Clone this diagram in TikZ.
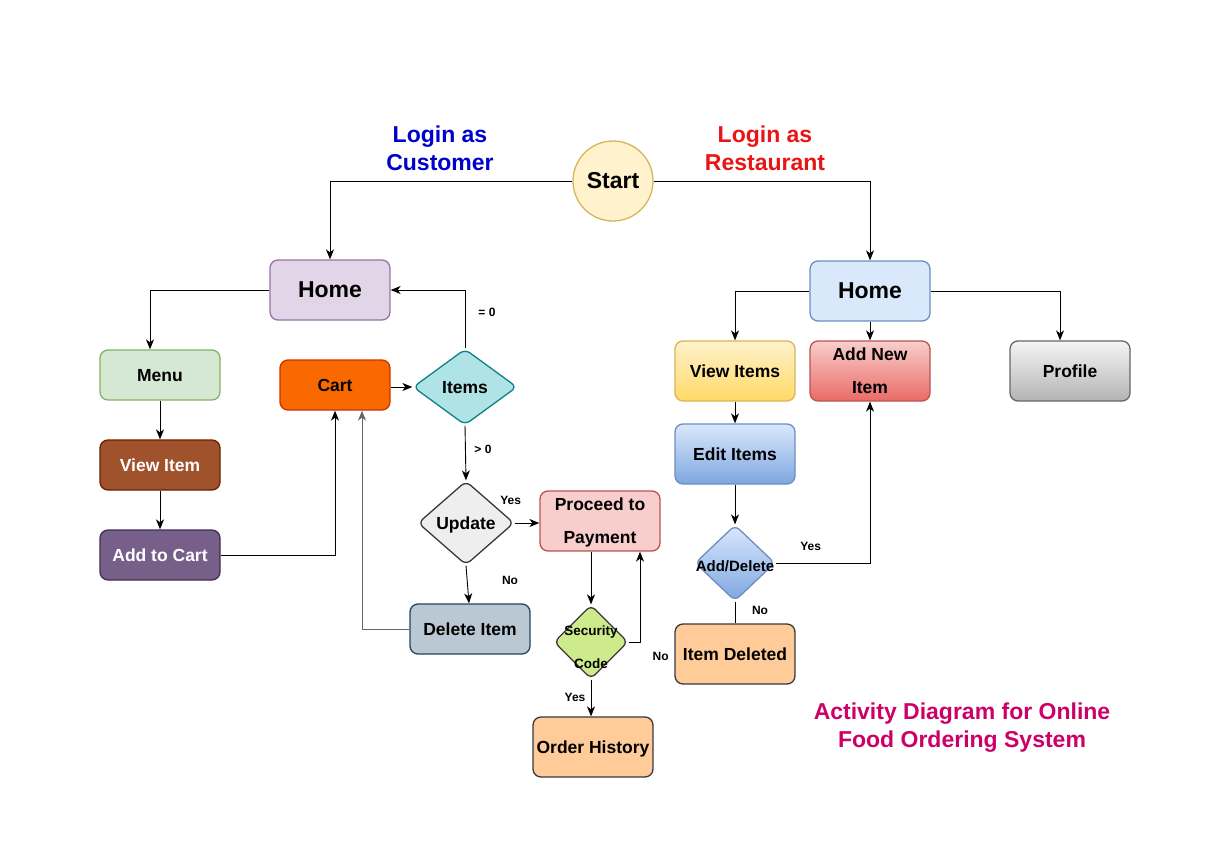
\documentclass[tikz,border=0pt]{standalone}
\usepackage{fontspec}
\setmainfont{Liberation Sans}
\usetikzlibrary{shapes.geometric,arrows.meta}
\definecolor{StartFill}{RGB}{255,242,204}
\definecolor{StartLine}{RGB}{214,182,86}
\definecolor{PurpleFill}{RGB}{225,213,231}
\definecolor{PurpleLine}{RGB}{150,115,166}
\definecolor{BlueFill}{RGB}{218,232,252}
\definecolor{BlueLine}{RGB}{108,142,191}
\definecolor{BlueDark}{RGB}{126,166,224}
\definecolor{GreenFill}{RGB}{213,232,212}
\definecolor{GreenLine}{RGB}{130,179,102}
\definecolor{BrownFill}{RGB}{160,82,45}
\definecolor{BrownLine}{RGB}{109,31,0}
\definecolor{VioletFill}{RGB}{118,96,138}
\definecolor{VioletLine}{RGB}{67,45,87}
\definecolor{OrangeFill}{RGB}{250,104,0}
\definecolor{OrangeLine}{RGB}{199,53,0}
\definecolor{TealFill}{RGB}{176,227,230}
\definecolor{TealLine}{RGB}{14,128,136}
\definecolor{GreyFill}{RGB}{238,238,238}
\definecolor{DarkLine}{RGB}{54,57,61}
\definecolor{SteelFill}{RGB}{186,200,211}
\definecolor{SteelLine}{RGB}{35,68,93}
\definecolor{RoseFill}{RGB}{248,206,204}
\definecolor{RoseLine}{RGB}{184,84,80}
\definecolor{RoseDark}{RGB}{234,107,102}
\definecolor{LimeFill}{RGB}{205,235,139}
\definecolor{PeachFill}{RGB}{255,204,153}
\definecolor{GoldDark}{RGB}{255,217,102}
\definecolor{SilverTop}{RGB}{245,245,245}
\definecolor{SilverDark}{RGB}{179,179,179}
\definecolor{SilverLine}{RGB}{102,102,102}
\definecolor{CustBlue}{RGB}{0,0,204}
\definecolor{RestRed}{RGB}{235,20,20}
\definecolor{TitleMagenta}{RGB}{204,0,102}

\begin{document}
\begin{tikzpicture}[x=1pt,y=-1pt]
			\useasboundingbox (0,0) rectangle (1209,867);
			\tikzstyle{box}=[draw, shape=rectangle, rounded corners=8pt, line width=1.3pt, minimum width=120pt, minimum height=60pt, align=center, text depth=0pt, font=\fontsize{17.5}{33}\selectfont\bfseries];
			\tikzstyle{decision}=[draw, shape=diamond, rounded corners=6pt, line width=1.3pt, inner sep=0pt, align=center, text depth=0pt, font=\fontsize{17.5}{33}\selectfont\bfseries];
			\tikzstyle{conn}=[-{Stealth[length=10pt,width=8pt,inset=3pt]}, line width=0.9pt];
			\tikzstyle{lbl}=[font=\fontsize{12}{14}\selectfont\bfseries, inner sep=1pt];
			\tikzstyle{bigtext}=[align=center, font=\fontsize{23}{28}\selectfont\bfseries];
			\node [draw=StartLine, fill=StartFill, shape=circle, line width=1.3pt, minimum size=80pt, inner sep=0pt, font=\fontsize{23}{28}\selectfont\bfseries] (start) at (613, 181) {Start};
			\node [bigtext, text=CustBlue] (custlogin) at (440, 148) {Login as\\Customer};
			\node [bigtext, text=RestRed] (restlogin) at (765, 148) {Login as\\Restaurant};
			\node [box, draw=PurpleLine, fill=PurpleFill, font=\fontsize{23}{28}\selectfont\bfseries] (homec) at (330, 290) {Home};
			\node [box, draw=BlueLine, fill=BlueFill, font=\fontsize{23}{28}\selectfont\bfseries] (homer) at (870, 291) {Home};
			\node [box, draw=GreenLine, fill=GreenFill, minimum height=50pt] (menu) at (160, 375) {Menu};
			\node [box, draw=BrownLine, fill=BrownFill, minimum height=50pt, text=white] (viewitem) at (160, 465) {View Item};
			\node [box, draw=VioletLine, fill=VioletFill, minimum height=50pt, text=white] (addcart) at (160, 555) {Add to Cart};
			\node [box, draw=OrangeLine, fill=OrangeFill, minimum height=50pt, minimum width=110pt] (cart) at (335, 385) {Cart};
			\node [decision, draw=TealLine, fill=TealFill, minimum width=104pt, minimum height=76pt] (items) at (465, 387) {Items};
			\node [decision, draw=DarkLine, fill=GreyFill, minimum width=96pt, minimum height=84pt] (update) at (466, 523) {Update};
			\node [box, draw=RoseLine, fill=RoseFill] (proceed) at (600, 521) {Proceed to\\Payment};
			\node [decision, draw=DarkLine, fill=LimeFill, minimum width=74pt, minimum height=74pt] (security) at (591, 642) {};
			\node [align=center, font=\fontsize{13.5}{33}\selectfont\bfseries, yshift=-5pt] (securitytext) at (security) {Security\\Code};
			\node [box, draw=DarkLine, fill=PeachFill] (orderhist) at (593, 747) {Order History};
			\node [box, draw=SteelLine, fill=SteelFill, minimum height=50pt] (deleteitem) at (470, 629) {Delete Item};
			\node [box, draw=StartLine, top color=StartFill, bottom color=GoldDark] (viewitems) at (735, 371) {View Items};
			\node [box, draw=RoseLine, top color=RoseFill, bottom color=RoseDark] (addnew) at (870, 371) {Add New\\Item};
			\node [box, draw=SilverLine, top color=SilverTop, bottom color=SilverDark] (profile) at (1070, 371) {Profile};
			\node [box, draw=BlueLine, top color=BlueFill, bottom color=BlueDark] (edititems) at (735, 454) {Edit Items};
			\node [decision, draw=BlueLine, top color=BlueFill, bottom color=BlueDark, minimum width=80pt, minimum height=76pt] (adddelete) at (735, 563) {};
			\node [font=\fontsize{15}{18}\selectfont\bfseries, inner sep=0pt, yshift=-3pt] (adddeletetext) at (adddelete) {Add/Delete};
			\node [box, draw=DarkLine, fill=PeachFill] (itemdeleted) at (735, 654) {Item Deleted};
			\node [bigtext, text=TitleMagenta] (title) at (962, 728) {Activity Diagram for Online\\Food Ordering System};
			\draw [conn] (start.west) -| (homec.north);
			\draw [conn] (start.east) -| (homer.north);
			\draw [conn] (homec.west) -| ([xshift=-10pt]menu.north);
			\draw [conn] (menu) -- (viewitem);
			\draw [conn] (viewitem) -- (addcart);
			\draw [conn] (addcart.east) -| (cart.south);
			\draw [conn, draw=SilverLine] (deleteitem.west) -| ([xshift=27pt]cart.south);
			\draw [conn] (cart.east |- items.west) -- (items.west);
			\draw [conn] (items.north) |- node[lbl, pos=0, xshift=22pt, yshift=36pt]{= 0} (homec.east);
			\draw [conn] (items.south) -- node[lbl, pos=0, xshift=18pt, yshift=-24pt]{> 0} (update.north);
			\draw [conn] (update.east) -- node[lbl, pos=0, xshift=-4pt, yshift=23pt]{Yes} (update.east -| proceed.west);
			\draw [conn] (update.south) -- node[lbl, pos=0, xshift=44pt, yshift=-15pt]{No} ([xshift=-1pt]deleteitem.north);
			\draw [conn] (proceed.south -| security.north) -- (security.north);
			\draw [conn] (security.east) -| node[lbl, pos=0, xshift=32pt, yshift=-14pt]{No} ([xshift=40pt]proceed.south);
			\draw [conn] (security.south) -- node[lbl, pos=0, xshift=-16pt, yshift=-18pt]{Yes} (security.south |- orderhist.north);
			\draw [conn] (homer.west) -| (viewitems.north);
			\draw [conn] (homer.south) -- (addnew.north);
			\draw [conn] (homer.east) -| ([xshift=-10pt]profile.north);
			\draw [conn] (viewitems) -- (edititems);
			\draw [conn] (edititems) -- (adddelete);
			\draw [conn] (adddelete.east) -| node[lbl, pos=0, xshift=35pt, yshift=17pt]{Yes} (addnew.south);
			\draw [line width=0.9pt] (adddelete.south) -- node[lbl, pos=0, xshift=25pt, yshift=-9pt]{No} (itemdeleted.north);
		\end{tikzpicture}
\end{document}
